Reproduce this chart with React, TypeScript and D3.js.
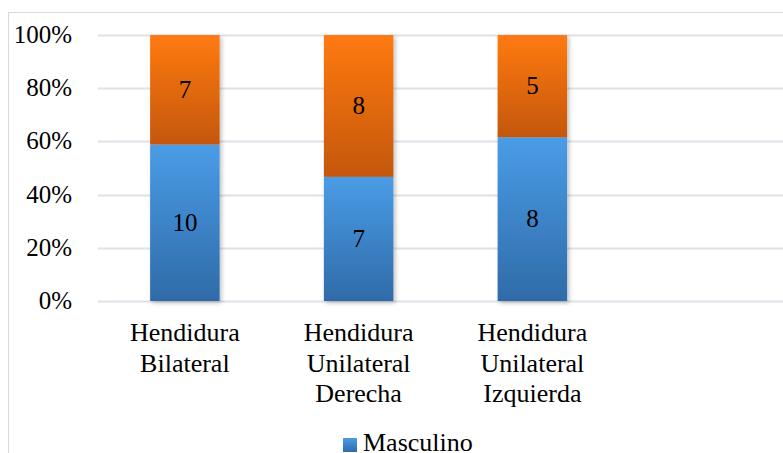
import React from 'react'
import * as d3 from 'd3'

// categories (4th slot is empty in the original chart)
const categories = ['Hendidura Bilateral', 'Hendidura Unilateral Derecha', 'Hendidura Unilateral Izquierda', '']
const categoryLines = [['Hendidura', 'Bilateral'], ['Hendidura', 'Unilateral', 'Derecha'], ['Hendidura', 'Unilateral', 'Izquierda'], []]
const masculino = [10, 7, 8]
const femenino = [7, 8, 5]
const yTicks = [0, 0.2, 0.4, 0.6, 0.8, 1]
const legendLabels = ['Masculino']

const W = 783
const H = 453
const FONT = "'Liberation Serif', 'Times New Roman', Tinos, Times, serif"
const txt = { fontFamily: FONT, fontSize: 25 }
const txtBig = { fontFamily: FONT, fontSize: 26 }

export default function App() {
  const left = 98, right = 793, top = 35, bottom = 301

  const x = d3.scaleBand().domain(categories).range([left, right]).paddingInner(0.6).paddingOuter(0.3)
  const y = d3.scaleLinear().domain([0, 1]).range([bottom, top])
  const pct = d3.format('.0%')

  const rows = masculino.map((m, i) => ({ cat: categories[i], m, f: femenino[i], split: m / (m + femenino[i]) }))

  return (
    <svg width={W} height={H} style={{ position: 'absolute', left: 0, top: 0, background: 'white' }}>
      <defs>
        <linearGradient id="gBlue" x1="0" y1="0" x2="0" y2="1">
          <stop offset="0%" stopColor="#4a9ce7" />
          <stop offset="100%" stopColor="#2f6ba8" />
        </linearGradient>
        <linearGradient id="gOrange" x1="0" y1="0" x2="0" y2="1">
          <stop offset="0%" stopColor="#ff7a12" />
          <stop offset="100%" stopColor="#c4570d" />
        </linearGradient>
        <filter id="shadow" x="-20%" y="-5%" width="150%" height="115%">
          <feDropShadow dx="2" dy="2" stdDeviation="2" floodColor="#000" floodOpacity="0.25" />
        </filter>
      </defs>

      <rect x={8.5} y={12.5} width={W} height={H} fill="white" stroke="#d9d9d9" />

      {yTicks.map(t => (
        <line key={'g' + t} x1={left} x2={W} y1={Math.round(y(t)) + 0.5} y2={Math.round(y(t)) + 0.5} stroke="#dde2e8" strokeWidth={2} />
      ))}
      {yTicks.map(t => (
        <text key={'t' + t} x={72} y={y(t) + 8} textAnchor="end" style={txt}>{pct(t)}</text>
      ))}

      {rows.map(r => (
        <g key={r.cat} filter="url(#shadow)">
          <rect x={x(r.cat)} width={x.bandwidth()} y={y(r.split)} height={y(0) - y(r.split)} fill="url(#gBlue)" />
          <rect x={x(r.cat)} width={x.bandwidth()} y={y(1)} height={y(r.split) - y(1)} fill="url(#gOrange)" />
        </g>
      ))}
      {rows.map(r => {
        const cx = x(r.cat)! + x.bandwidth() / 2
        return (
          <g key={'l' + r.cat} textAnchor="middle">
            <text x={cx} y={(y(0) + y(r.split)) / 2 + 8} style={txt}>{r.m}</text>
            <text x={cx} y={(y(r.split) + y(1)) / 2 + 8} style={txt}>{r.f}</text>
          </g>
        )
      })}

      {categories.map((c, i) => (
        <g key={'c' + i} textAnchor="middle">
          {categoryLines[i].map((line, j) => (
            <text key={j} x={x(c)! + x.bandwidth() / 2} y={341 + j * 30.5} style={txtBig}>{line}</text>
          ))}
        </g>
      ))}

      <rect x={343} y={438} width={14} height={14} fill="url(#gBlue)" />
      <text x={363} y={451} style={txtBig}>{legendLabels[0]}</text>
    </svg>
  )
}
